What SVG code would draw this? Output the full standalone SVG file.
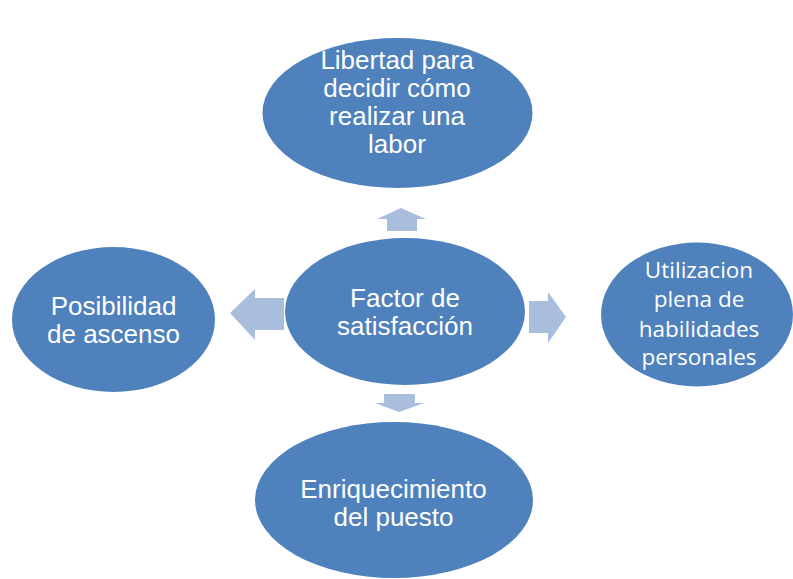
<svg xmlns="http://www.w3.org/2000/svg" width="793" height="579" viewBox="0 0 793 579">
<style>
.node{fill:#4f81bd;}
.arr{fill:#a9bddc;}
.t{fill:#ffffff;font-family:"Liberation Sans",Arial,sans-serif;font-size:26px;text-anchor:middle;}
.t2{fill:#ffffff;font-family:"Open Sans","Noto Sans",sans-serif;font-size:22.5px;text-anchor:middle;}
</style>
<rect width="793" height="579" fill="#ffffff"/>
<g id="connectors">
<polygon class="arr" points="401,208 426,219 417,219 417,231 387,231 387,219 377,219"/>
<polygon class="arr" points="230,313 255,289 255,298 284,298 284,330 255,330 255,340"/>
<polygon class="arr" points="566,317 548,292 548,301 529,301 529,333 548,333 548,343"/>
<polygon class="arr" points="399,412 424,403 415,403 415,394 384,394 384,403 375,403"/>
</g>
<g id="node-top">
<ellipse class="node" cx="397.5" cy="113" rx="135" ry="75"/>
<text class="t"><tspan x="397" y="68.5">Libertad para</tspan><tspan x="397" y="96.5">decidir cómo</tspan><tspan x="397" y="124.5">realizar una</tspan><tspan x="397" y="152.5">labor</tspan></text>
</g>
<g id="node-center">
<ellipse class="node" cx="405" cy="311.5" rx="120" ry="73.5"/>
<text class="t"><tspan x="405" y="307">Factor de</tspan><tspan x="405" y="335">satisfacción</tspan></text>
</g>
<g id="node-left">
<ellipse class="node" cx="113.5" cy="319.5" rx="101.5" ry="72.5"/>
<text class="t"><tspan x="113.5" y="315">Posibilidad</tspan><tspan x="113.5" y="343">de ascenso</tspan></text>
</g>
<g id="node-right">
<ellipse class="node" cx="697" cy="314.5" rx="96" ry="72"/>
<text class="t2"><tspan x="699" y="278">Utilizacion</tspan><tspan x="699" y="307">plena de</tspan><tspan x="699" y="336.5">habilidades</tspan><tspan x="699" y="365">personales</tspan></text>
</g>
<g id="node-bottom">
<ellipse class="node" cx="394" cy="500" rx="139" ry="78"/>
<text class="t"><tspan x="393.5" y="497.5">Enriquecimiento</tspan><tspan x="393.5" y="525.5">del puesto</tspan></text>
</g>
</svg>
